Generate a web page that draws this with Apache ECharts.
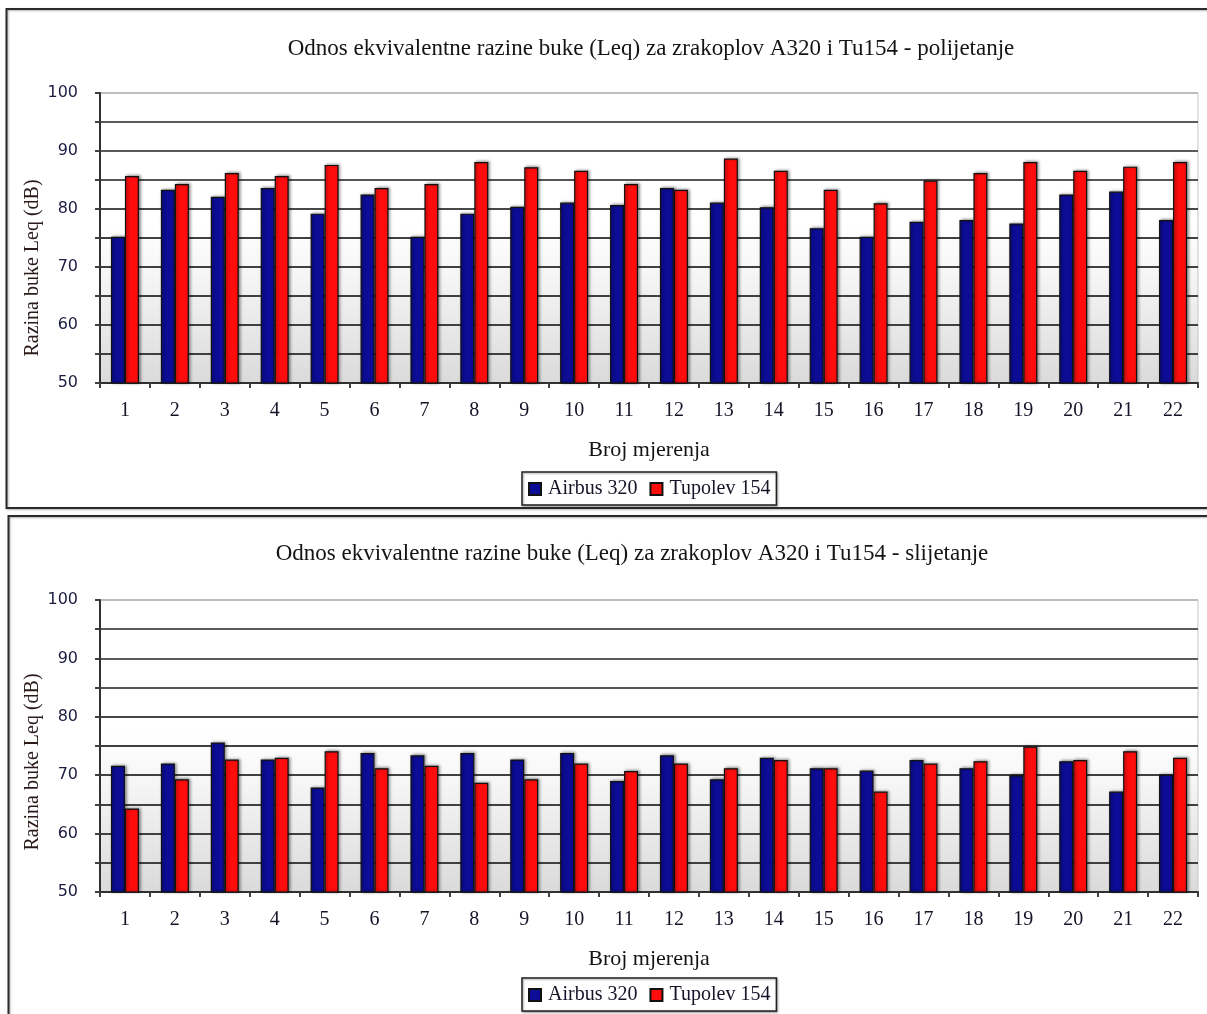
<!DOCTYPE html>
<html>
<head>
<meta charset="utf-8">
<script src="https://cdn.jsdelivr.net/npm/echarts@6/dist/echarts.min.js"></script>
<style>
html,body{margin:0;padding:0;background:#fff;}
#c{width:1207px;height:1014px;}
</style>
</head>
<body>
<div id="c"></div>
<script>
const categories = ['1','2','3','4','5','6','7','8','9','10','11','12','13','14','15','16','17','18','19','20','21','22'];
const seriesNames = ['Airbus 320', 'Tupolev 154'];
const takeoffA320  = [75.2,83.3,82.1,83.6,79.2,82.5,75.2,79.2,80.4,81.1,80.7,83.6,81.1,80.3,76.7,75.2,77.8,78.1,77.5,82.5,83.0,78.1];
const takeoffTu154 = [85.7,84.3,86.2,85.7,87.6,83.6,84.3,88.1,87.2,86.6,84.3,83.3,88.7,86.6,83.3,81.0,84.9,86.2,88.1,86.6,87.3,88.1];
const landingA320  = [71.6,72.0,75.6,72.7,67.9,73.8,73.4,73.8,72.7,73.8,69.0,73.4,69.3,73.0,71.2,70.8,72.6,71.2,70.0,72.4,67.2,70.1];
const landingTu154 = [64.3,69.3,72.7,73.0,74.1,71.2,71.6,68.7,69.3,72.0,70.7,72.0,71.2,72.6,71.2,67.2,72.0,72.4,74.9,72.6,74.1,73.0];
const titleTop = 'Odnos ekvivalentne razine buke (Leq) za zrakoplov A320 i Tu154 - polijetanje';
const titleBottom = 'Odnos ekvivalentne razine buke (Leq) za zrakoplov A320 i Tu154 - slijetanje';
const yAxisName = 'Razina buke Leq (dB)';
const xAxisName = 'Broj mjerenja';

const chart = echarts.init(document.getElementById('c'), null, {renderer: 'canvas'});
const serif = '"Liberation Serif", "Times New Roman", serif';
const bg = new echarts.graphic.LinearGradient(0, 0, 0, 1, [
  {offset: 0, color: '#ffffff'},
  {offset: 0.45, color: '#ffffff'},
  {offset: 0.62, color: '#f6f6f6'},
  {offset: 1, color: '#dadada'}
]);
const splitColors = ['#404040','#404040','#404040','#404040','#404040','#404040','#484848','#555555','#5a5a5a','#5a5a5a','#bdbdbd'];

function gridCfg(top, height) {
  return {left: 100, right: 9, top: top, height: height, show: true, backgroundColor: bg, borderColor: '#c4c4c4', borderWidth: 1};
}
function xAxisCfg(gi) {
  return {
    type: 'category', gridIndex: gi, data: categories, boundaryGap: true,
    axisLine: {lineStyle: {color: '#303030', width: 2}},
    axisTick: {show: true, length: 5, lineStyle: {color: '#404040', width: 2}},
    axisLabel: {margin: 18, fontFamily: serif, fontSize: 20, color: '#141428'},
    name: xAxisName, nameLocation: 'middle', nameGap: 56,
    nameTextStyle: {fontFamily: serif, fontSize: 22, color: '#141414'}
  };
}
function yAxisCfg(gi) {
  return {
    type: 'value', gridIndex: gi, min: 50, max: 100, interval: 5,
    axisLine: {show: true, lineStyle: {color: '#303030', width: 2}},
    axisTick: {show: true, length: 5, lineStyle: {color: '#404040', width: 2}},
    axisLabel: {margin: 22, fontFamily: '"DejaVu Sans", Verdana, sans-serif', fontSize: 16, color: '#1c1c40',
      formatter: function (v) { return v % 10 === 0 ? String(v) : ''; }},
    splitLine: {show: true, lineStyle: {color: splitColors, width: 2}}
  };
}
function barSeries(name, data, gi, color) {
  return {
    name: name, type: 'bar', xAxisIndex: gi, yAxisIndex: gi, data: data,
    barWidth: 14, barGap: '0%',
    itemStyle: {color: color, borderColor: '#111', borderWidth: 1.2,
      shadowColor: 'rgba(0,0,0,0.45)', shadowBlur: 3, shadowOffsetX: 1.5, shadowOffsetY: -0.5}
  };
}
function legendCfg(top) {
  return {
    data: seriesNames, left: 522, top: top, orient: 'horizontal',
    itemWidth: 12, itemHeight: 12, itemGap: 12, icon: 'rect',
    padding: [7, 6, 6, 6], borderColor: '#222', borderWidth: 1.5,
    backgroundColor: '#fff',
    shadowColor: 'rgba(0,0,0,0.35)', shadowBlur: 2, shadowOffsetX: 1, shadowOffsetY: 1,
    textStyle: {fontFamily: serif, fontSize: 20, color: '#141428', padding: [0, 0, 0, 2]}
  };
}

const option = {
  animation: false,
  backgroundColor: '#fff',
  grid: [gridCfg(93, 290), gridCfg(600, 292)],
  xAxis: [xAxisCfg(0), xAxisCfg(1)],
  yAxis: [yAxisCfg(0), yAxisCfg(1)],
  legend: [legendCfg(472), legendCfg(978)],
  series: [
    barSeries(seriesNames[0], takeoffA320, 0, '#0c0c96'),
    barSeries(seriesNames[1], takeoffTu154, 0, '#ff0d0d'),
    barSeries(seriesNames[0], landingA320, 1, '#0c0c96'),
    barSeries(seriesNames[1], landingTu154, 1, '#ff0d0d')
  ],
  graphic: [
    {type: 'rect', z: -10, silent: true, shape: {x: 6.5, y: 9, width: 1215, height: 499},
      style: {fill: 'none', stroke: '#2a2a2a', lineWidth: 2, shadowColor: 'rgba(0,0,0,0.3)', shadowBlur: 2, shadowOffsetX: 1, shadowOffsetY: 1}},
    {type: 'rect', z: -10, silent: true, shape: {x: 8.5, y: 516, width: 1215, height: 520},
      style: {fill: 'none', stroke: '#2a2a2a', lineWidth: 2, shadowColor: 'rgba(0,0,0,0.3)', shadowBlur: 2, shadowOffsetX: 1, shadowOffsetY: 1}},
    {type: 'text', silent: true, x: 651, y: 49,
      style: {text: titleTop, font: '23px ' + serif, fill: '#141414', align: 'center', verticalAlign: 'middle'}},
    {type: 'text', silent: true, x: 632, y: 554,
      style: {text: titleBottom, font: '23px ' + serif, fill: '#141414', align: 'center', verticalAlign: 'middle'}},
    {type: 'text', silent: true, x: 33, y: 268, rotation: Math.PI / 2,
      style: {text: yAxisName, font: '20px ' + serif, fill: '#2a1a1a', align: 'center', verticalAlign: 'middle'}},
    {type: 'text', silent: true, x: 33, y: 762, rotation: Math.PI / 2,
      style: {text: yAxisName, font: '20px ' + serif, fill: '#2a1a1a', align: 'center', verticalAlign: 'middle'}}
  ]
};
chart.setOption(option);
</script>
</body>
</html>
